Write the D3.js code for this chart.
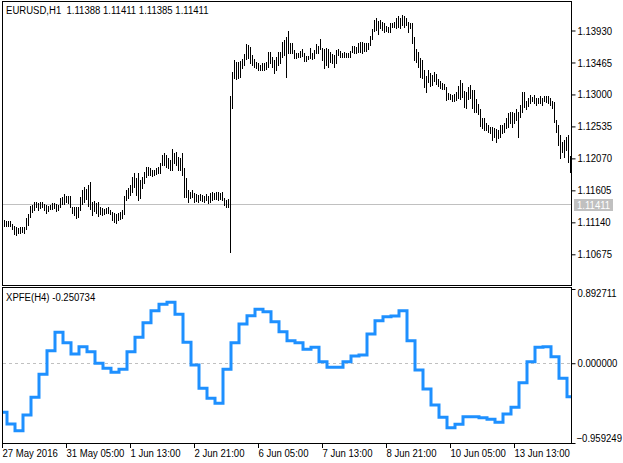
<!DOCTYPE html>
<html><head><meta charset="utf-8">
<script src="https://cdn.jsdelivr.net/npm/d3@7"></script>
<style>
html,body{margin:0;padding:0;background:#fff;}
svg{display:block;}
text{font-family:"Liberation Sans",Arial,sans-serif;font-size:11px;fill:#000;}
</style></head><body>
<svg id="chart" width="623" height="463"></svg>
<script>
const symbolTitle = "EURUSD,H1  1.11388 1.11411 1.11385 1.11411";
const indicatorTitle = "XPFE(H4) -0.250734";
const bidPrice = 1.11411;

const highs = [1.11172,1.11157,1.11157,1.11157,1.11114,1.11085,1.11070,1.11056,1.11070,1.11070,
 1.11070,1.11201,1.11259,1.11376,1.11390,1.11434,1.11434,1.11419,1.11434,1.11434,
 1.11405,1.11390,1.11376,1.11390,1.11419,1.11419,1.11405,1.11390,1.11492,1.11507,
 1.11550,1.11521,1.11521,1.11521,1.11361,1.11361,1.11361,1.11361,1.11507,1.11609,
 1.11652,1.11623,1.11681,1.11725,1.11434,1.11449,1.11419,1.11434,1.11361,1.11347,
 1.11332,1.11347,1.11361,1.11318,1.11288,1.11274,1.11259,1.11274,1.11288,1.11318,
 1.11521,1.11609,1.11638,1.11681,1.11798,1.11856,1.11783,1.11856,1.11754,1.11798,
 1.11871,1.11943,1.11943,1.11929,1.11900,1.11900,1.11929,1.11943,1.12002,1.12118,
 1.12147,1.12118,1.12074,1.12045,1.12205,1.12147,1.12162,1.12089,1.12074,1.12147,
 1.11929,1.11783,1.11609,1.11580,1.11609,1.11565,1.11550,1.11536,1.11550,1.11536,
 1.11521,1.11550,1.11521,1.11565,1.11580,1.11565,1.11580,1.11580,1.11565,1.11580,
 1.11492,1.11463,1.11478,1.12977,1.13326,1.13501,1.13472,1.13472,1.13486,1.13515,
 1.13588,1.13734,1.13719,1.13690,1.13574,1.13515,1.13472,1.13457,1.13428,1.13457,
 1.13457,1.13472,1.13617,1.13617,1.13544,1.13501,1.13544,1.13617,1.13617,1.13763,
 1.13792,1.13836,1.13923,1.13748,1.13748,1.13646,1.13603,1.13603,1.13632,1.13661,
 1.13603,1.13559,1.13559,1.13675,1.13603,1.13646,1.13734,1.13705,1.13806,1.13675,
 1.13661,1.13675,1.13661,1.13617,1.13588,1.13574,1.13646,1.13661,1.13632,1.13603,
 1.13617,1.13603,1.13603,1.13632,1.13705,1.13705,1.13690,1.13748,1.13763,1.13763,
 1.13748,1.13748,1.13748,1.13850,1.13952,1.14083,1.14112,1.14068,1.14083,1.14054,
 1.14039,1.13996,1.13981,1.14039,1.14039,1.14054,1.14112,1.14141,1.14112,1.14156,
 1.14141,1.14112,1.14054,1.14039,1.14039,1.13836,1.13661,1.13617,1.13530,1.13501,
 1.13355,1.13268,1.13355,1.13312,1.13282,1.13326,1.13297,1.13224,1.13195,1.13166,
 1.13151,1.13108,1.13020,1.13006,1.12991,1.13006,1.13035,1.13122,1.13210,1.13166,
 1.13050,1.13035,1.13108,1.13137,1.13064,1.13064,1.12933,1.12860,1.12788,1.12657,
 1.12657,1.12584,1.12555,1.12526,1.12526,1.12511,1.12497,1.12482,1.12555,1.12555,
 1.12584,1.12657,1.12729,1.12744,1.12744,1.12729,1.12788,1.12744,1.12846,1.13035,
 1.13035,1.12904,1.12948,1.12991,1.12962,1.12991,1.12948,1.12948,1.12977,1.12948,
 1.12977,1.12977,1.12977,1.12948,1.12904,1.12889,1.12627,1.12555,1.12409,1.12307,
 1.12336,1.12380,1.12409,1.12104];

const lows = [1.11085,1.11085,1.11085,1.11085,1.11041,1.10968,1.10954,1.10983,1.10983,1.10997,
 1.10983,1.11041,1.11099,1.11216,1.11288,1.11318,1.11361,1.11318,1.11347,1.11361,
 1.11318,1.11274,1.11303,1.11332,1.11332,1.11347,1.11303,1.11318,1.11361,1.11405,
 1.11405,1.11434,1.11419,1.11361,1.11274,1.11245,1.11201,1.11216,1.11318,1.11405,
 1.11434,1.11478,1.11376,1.11332,1.11245,1.11303,1.11274,1.11230,1.11259,1.11245,
 1.11259,1.11274,1.11274,1.11259,1.11172,1.11143,1.11128,1.11172,1.11187,1.11201,
 1.11259,1.11463,1.11492,1.11536,1.11580,1.11652,1.11536,1.11463,1.11492,1.11638,
 1.11711,1.11798,1.11827,1.11827,1.11812,1.11827,1.11842,1.11856,1.11856,1.11973,
 1.11973,1.11943,1.11929,1.11900,1.11900,1.12002,1.11973,1.11900,1.11900,1.11827,
 1.11507,1.11507,1.11434,1.11492,1.11507,1.11434,1.11449,1.11434,1.11463,1.11449,
 1.11434,1.11463,1.11419,1.11434,1.11463,1.11478,1.11478,1.11463,1.11478,1.11463,
 1.11390,1.11361,1.11361,1.10706,1.12802,1.13239,1.13224,1.13239,1.13253,1.13384,
 1.13428,1.13515,1.13530,1.13457,1.13428,1.13399,1.13384,1.13355,1.13355,1.13355,
 1.13355,1.13370,1.13399,1.13457,1.13399,1.13312,1.13355,1.13428,1.13457,1.13544,
 1.13574,1.13253,1.13603,1.13603,1.13603,1.13530,1.13530,1.13544,1.13544,1.13559,
 1.13486,1.13486,1.13515,1.13530,1.13515,1.13530,1.13603,1.13603,1.13661,1.13501,
 1.13384,1.13428,1.13399,1.13472,1.13457,1.13399,1.13457,1.13574,1.13544,1.13544,
 1.13544,1.13544,1.13544,1.13544,1.13617,1.13603,1.13603,1.13617,1.13617,1.13603,
 1.13632,1.13632,1.13661,1.13719,1.13806,1.13923,1.13937,1.13879,1.13967,1.13937,
 1.13908,1.13923,1.13908,1.13908,1.13981,1.13981,1.13967,1.13981,1.13967,1.14010,
 1.13981,1.14010,1.13908,1.13967,1.13748,1.13501,1.13472,1.13399,1.13253,1.13239,
 1.13108,1.13035,1.13181,1.13122,1.13137,1.13195,1.13151,1.13122,1.13093,1.13079,
 1.13079,1.12919,1.12933,1.12933,1.12904,1.12904,1.12919,1.12948,1.12933,1.12962,
 1.12817,1.12802,1.12933,1.12948,1.12802,1.12744,1.12744,1.12715,1.12540,1.12511,
 1.12482,1.12482,1.12453,1.12438,1.12336,1.12380,1.12307,1.12366,1.12380,1.12438,
 1.12453,1.12511,1.12526,1.12584,1.12526,1.12584,1.12627,1.12380,1.12671,1.12744,
 1.12817,1.12788,1.12831,1.12875,1.12904,1.12875,1.12846,1.12875,1.12875,1.12846,
 1.12904,1.12889,1.12875,1.12846,1.12802,1.12598,1.12453,1.12264,1.12074,1.12162,
 1.12089,1.12191,1.12016,1.11871];

const priceTicks = [1.13930, 1.13465, 1.13000, 1.12535, 1.12070, 1.11605, 1.11140, 1.10675];

// XPFE values, one per H4 bar (each spans four H1 bars)
const xpfeH4 = [-0.590,-0.731,-0.812,-0.623,-0.410,-0.133,0.150,0.372,0.247,0.111,
 0.198,0.138,-0.001,-0.061,-0.109,-0.073,0.138,0.311,0.487,0.631,
 0.708,0.732,0.588,0.251,-0.022,-0.302,-0.422,-0.482,-0.073,0.247,
 0.471,0.571,0.648,0.619,0.499,0.379,0.271,0.247,0.167,0.191,
 0.018,-0.049,-0.049,0.018,0.087,0.099,0.351,0.511,0.559,0.568,
 0.631,0.271,-0.082,-0.310,-0.503,-0.651,-0.776,-0.735,-0.643,-0.643,
 -0.655,-0.675,-0.711,-0.611,-0.530,-0.234,0.018,0.191,0.198,0.078,
 -0.182,-0.403];
const xpfeTicks = [0.892711, 0.000000, -0.959249];

const timeTickBars = [0, 31, 63, 95, 127, 159, 191, 223, 255];
const timeTickLabels = ["27 May 2016","31 May 05:00","1 Jun 13:00","2 Jun 21:00","6 Jun 05:00",
  "7 Jun 13:00","8 Jun 21:00","10 Jun 05:00","13 Jun 13:00"];

const svg = d3.select("#chart");
const L = 2, R = 571;
const mainTop = 1, mainBot = 285;
const indTop = 287, indBot = 443;
const NARROW = 0.87;

const x = d3.scaleLinear().domain([0, highs.length - 1]).range([4, 570]);
const yP = d3.scaleLinear().domain([1.10675, 1.13930]).range([254.3, 30.5]);
const yI = d3.scaleLinear().domain([-0.959249, 0.892711]).range([443, 289]);

// bid line
const by = Math.round(yP(bidPrice)) + 0.5;
svg.append("line").attr("x1", L+1).attr("x2", R).attr("y1", by).attr("y2", by)
  .attr("stroke", "#c0c0c0").attr("stroke-width", 1);

// bars
svg.append("g").attr("shape-rendering", "crispEdges")
  .selectAll("line").data(highs).join("line")
  .attr("x1", (d,i) => Math.round(x(i)) + 0.5)
  .attr("x2", (d,i) => Math.round(x(i)) + 0.5)
  .attr("y1", d => Math.round(yP(d)))
  .attr("y2", (d,i) => Math.round(yP(lows[i])) + 1)
  .attr("stroke", "#000").attr("stroke-width", 1);

// frames
svg.append("rect").attr("x", L+0.5).attr("y", mainTop+0.5).attr("width", R-L).attr("height", mainBot-mainTop)
  .attr("fill", "none").attr("stroke", "#000");
svg.append("rect").attr("x", L+0.5).attr("y", indTop+0.5).attr("width", R-L).attr("height", indBot-indTop)
  .attr("fill", "none").attr("stroke", "#000");

// price axis
const pa = svg.append("g").attr("transform", `translate(${R+0.5},0)`)
  .call(d3.axisRight(yP).tickValues(priceTicks).tickFormat(d3.format(".5f")).tickSize(4).tickPadding(2));
pa.select(".domain").remove();
pa.selectAll("text").attr("x", 6);

// bid label
svg.append("rect").attr("x", 574).attr("y", by - 5.5).attr("width", 39).attr("height", 12).attr("fill", "#c0c0c0");
svg.append("text").attr("x", 577).attr("y", by + 4).style("fill", "#fff").text(d3.format(".5f")(bidPrice));

// title texts
svg.append("text").attr("x", 6).attr("y", 14).style("white-space", "pre").text(symbolTitle);
svg.append("text").attr("x", 6).attr("y", 301).text(indicatorTitle);

// zero line
const zy = Math.round(yI(0)) + 0.5;
svg.append("line").attr("x1", L+1).attr("x2", R).attr("y1", zy).attr("y2", zy)
  .attr("stroke", "#c0c0c0").attr("stroke-dasharray", "3,3");

// indicator line
svg.append("clipPath").attr("id", "indclip").append("rect")
  .attr("x", L+1).attr("y", indTop+1).attr("width", R-L-1).attr("height", indBot-indTop-1);
const pts = xpfeH4.map((v,j) => [x(4*j - 2.5), yI(v)]);
pts.push([x(highs.length - 0.5), yI(xpfeH4[xpfeH4.length-1])]);
svg.append("path").attr("clip-path", "url(#indclip)")
  .attr("d", d3.line().curve(d3.curveStepAfter)(pts))
  .attr("fill", "none").attr("stroke", "#1e90ff").attr("stroke-width", 3)
  .attr("stroke-linejoin", "miter");

// indicator axis
const ia = svg.append("g").attr("transform", `translate(${R+0.5},0)`)
  .call(d3.axisRight(yI).tickValues(xpfeTicks).tickFormat(d3.format(".6f")).tickSize(4).tickPadding(2));
ia.select(".domain").remove();
ia.selectAll("text").attr("x", d => d < 0 ? 5 : 6)
  .attr("y", d => d === xpfeTicks[0] ? 4 : (d === xpfeTicks[2] ? -5 : 0));

// time axis
const tg = svg.append("g");
timeTickBars.forEach((b, k) => {
  const tx = k === 0 ? L + 0.5 : Math.round(x(b)) + 0.5;
  tg.append("line").attr("x1", tx).attr("x2", tx).attr("y1", indBot + 0.5).attr("y2", indBot + 5)
    .attr("stroke", "#000");
  tg.append("text").attr("x", tx).attr("y", 457).text(timeTickLabels[k]);
});

// narrow every text horizontally (MT4 uses a compact UI font)
svg.selectAll("text").each(function() {
  const t = d3.select(this);
  const tx = +t.attr("x") || 0, ty = +t.attr("y") || 0;
  t.attr("x", 0).attr("y", 0).attr("transform", `translate(${tx},${ty}) scale(${NARROW},1)`);
});
</script>
</body></html>
